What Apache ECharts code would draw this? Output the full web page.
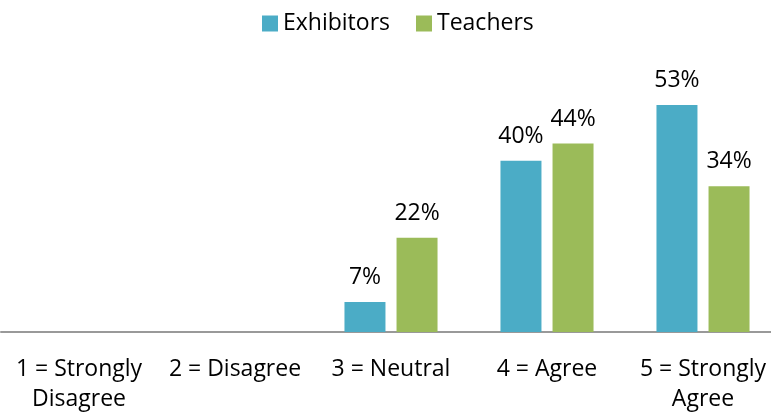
<!DOCTYPE html>
<html><head><meta charset="utf-8">
<script src="https://cdn.jsdelivr.net/npm/echarts@6/dist/echarts.min.js"></script>
<style>html,body{margin:0;padding:0;background:#fff}#c{width:771px;height:412px}</style>
</head><body><div id="c"></div>
<script>
const categories = ['1 = Strongly\nDisagree', '2 = Disagree', '3 = Neutral', '4 = Agree', '5 = Strongly\nAgree'];
const exhibitors = [0, 0, 7, 40, 53];
const teachers = [0, 0, 22, 44, 34];
const seriesNames = ['Exhibitors', 'Teachers'];
const colors = ['#4BACC6', '#9BBB59'];
const font = '"Open Sans", sans-serif';
const fs = 23;
const chart = echarts.init(document.getElementById('c'));
const lbl = {
  show: true, position: 'top', distance: 13, color: '#000', fontSize: fs, fontFamily: font,
  formatter: p => p.value > 0 ? p.value + '%' : ''
};
chart.setOption({
  animation: false,
  legend: {
    top: 7, left: 257, itemWidth: 16, itemHeight: 16, itemGap: 26,
    icon: 'rect',
    textStyle: { fontSize: fs, fontFamily: font, color: '#000' },
    data: seriesNames
  },
  grid: { left: 1, width: 780, top: 75, bottom: 80, containLabel: false, outerBoundsMode: 'none' },
  xAxis: {
    type: 'category', data: categories,
    axisLine: { lineStyle: { color: '#999', width: 2 } },
    axisTick: { show: false },
    axisLabel: { interval: 0, fontSize: fs, fontFamily: font, color: '#000', margin: 22, lineHeight: 30 }
  },
  yAxis: { type: 'value', min: 0, max: 60, show: false, splitLine: { show: false } },
  series: [
    { name: seriesNames[0], type: 'bar', data: exhibitors, barWidth: 41, barGap: '27%', itemStyle: { color: colors[0] }, label: lbl },
    { name: seriesNames[1], type: 'bar', data: teachers, barWidth: 41, itemStyle: { color: colors[1] }, label: lbl }
  ]
});
</script></body></html>
